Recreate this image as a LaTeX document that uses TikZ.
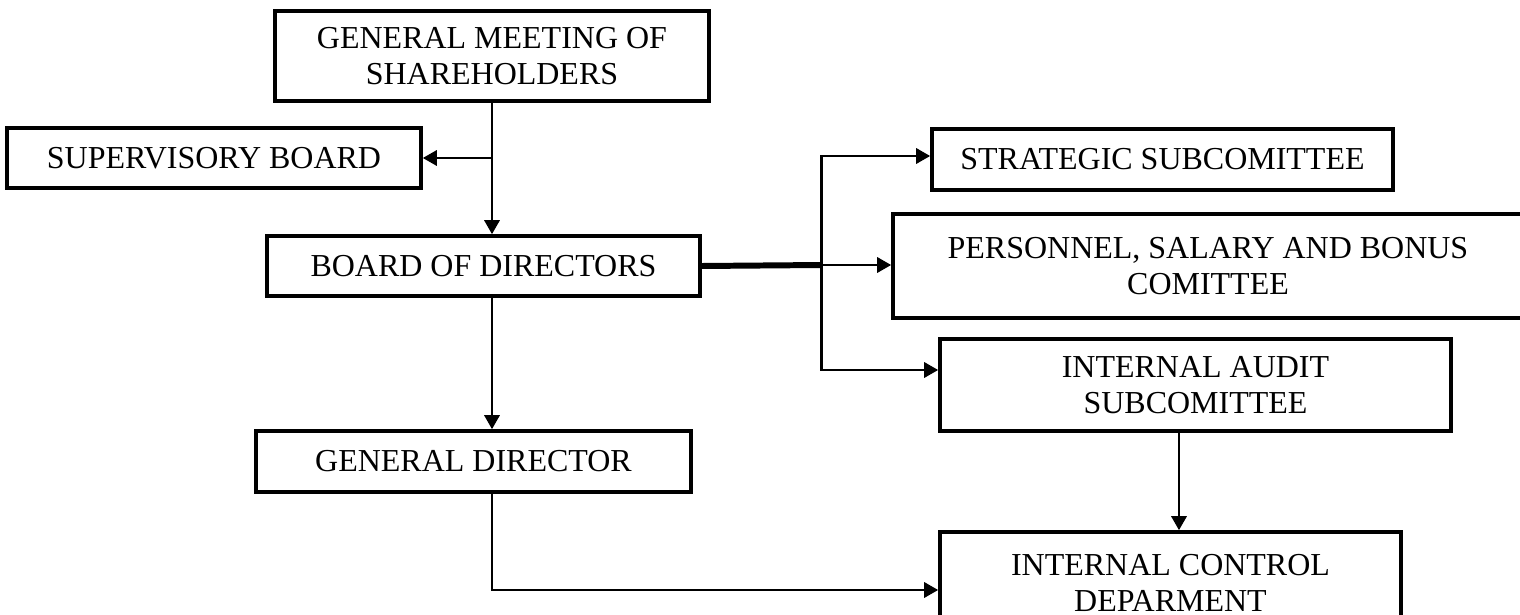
\documentclass[tikz,border=0pt]{standalone}
\usepackage{fontspec}
\setmainfont{Liberation Serif}
\usetikzlibrary{arrows.meta,positioning,calc}
\tikzset{
    %Define standard arrow tip
    >={Triangle[length=1.4mm,width=1.5mm]},
    font=\fontsize{9.1}{10.3}\selectfont,
    %Define style for boxes
    kasten/.style={
           rectangle,
           draw=black, line width=1pt,
           inner sep=0pt,
           align=center},
    % Define arrow style
    pfeil/.style={
           ->,
           line width=0.85pt},
    % Define thick joining line
    balken/.style={line width=1.7pt}
}

\begin{document}
\begin{tikzpicture}
  \useasboundingbox (0,0) rectangle (15.2,-6.15);
  \node[kasten, minimum width=4.34cm, minimum height=0.90cm] (gms) at (4.92,-0.56) {GENERAL MEETING OF\\SHAREHOLDERS};
  \node[kasten, minimum width=4.14cm, minimum height=0.60cm] (sb) at (2.14,-1.58) {SUPERVISORY BOARD};
  \node[kasten, minimum width=4.33cm, minimum height=0.60cm] (bod) at (4.835,-2.66) {BOARD OF DIRECTORS};
  \node[kasten, minimum width=4.35cm, minimum height=0.61cm] (gd) at (4.735,-4.615) {GENERAL DIRECTOR};
  \node[kasten, minimum width=4.61cm, minimum height=0.61cm] (strat) at (11.625,-1.595) {STRATEGIC SUBCOMITTEE};
  \node[kasten, minimum width=6.3cm, minimum height=1.04cm] (pers) at (12.08,-2.66) {PERSONNEL, SALARY AND BONUS\\COMITTEE};
  \node[kasten, minimum width=5.11cm, minimum height=0.92cm] (ia) at (11.955,-3.85) {INTERNAL AUDIT\\SUBCOMITTEE};
  \node[kasten, minimum width=4.61cm, minimum height=1.02cm] (ic) at (11.705,-5.83) {INTERNAL CONTROL\\DEPARMENT};
  % junctions
  \coordinate (split) at (8.215,-2.65);
  \coordinate (top) at (8.215,-1.56);
  \coordinate (low) at (8.215,-3.70);
  \coordinate (bend) at (4.92,-5.9);
  \coordinate (drop) at (11.79,-4.5);
  % connectors
  \draw[pfeil] (gms.south) -- (gms.south |- bod.north);
  \draw[pfeil] (gms.south |- sb.east) -- (sb.east);
  \draw[pfeil] (gms.south |- bod.south) -- (gms.south |- gd.north);
  \draw[pfeil] (bend |- gd.south) -- (bend) -- (ic.west |- bend);
  \draw[balken] (bod.east) -- (split);
  \draw[pfeil] (split) -- (pers.west |- split);
  \draw[pfeil] (split) -- (top) -- (strat.west |- top);
  \draw[pfeil] (split) -- (low) -- (ia.west |- low);
  \draw[pfeil] (drop |- ia.south) -- (drop |- ic.north);
\end{tikzpicture}
\end{document}
